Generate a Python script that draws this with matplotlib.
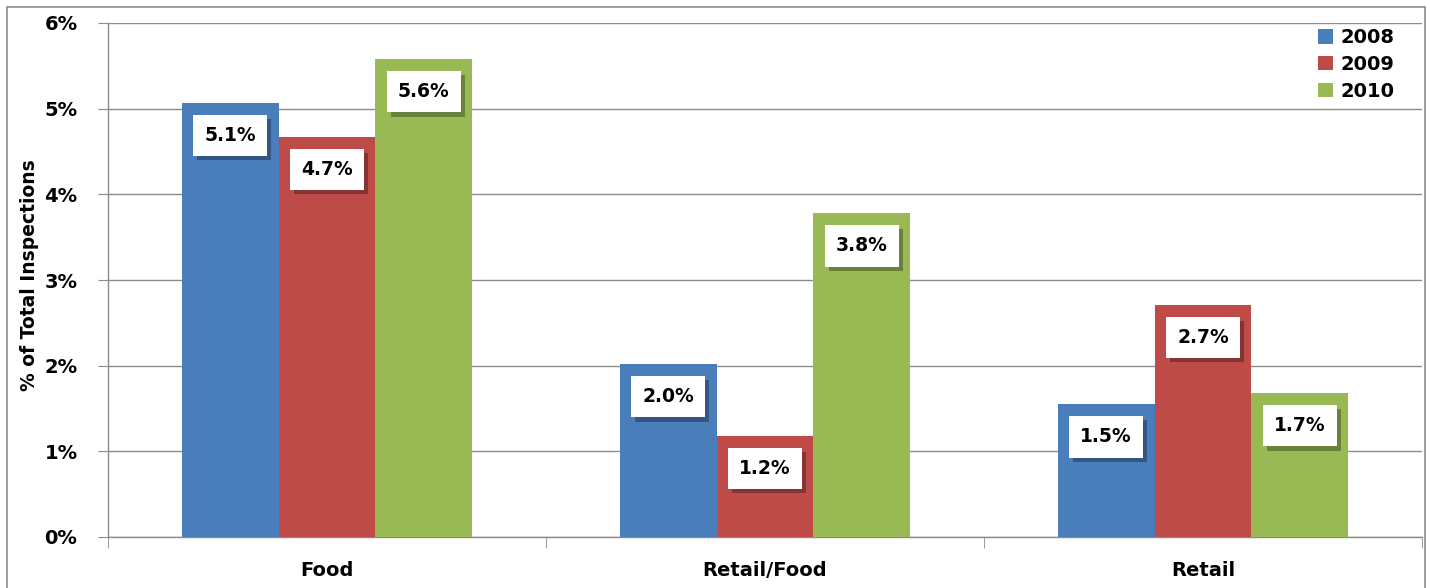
import matplotlib
matplotlib.use("Agg")
import matplotlib.pyplot as plt
import matplotlib.patheffects as pe
from matplotlib.patches import Rectangle
import numpy as np

categories = ["Food", "Retail/Food", "Retail"]
years = ["2008", "2009", "2010"]
v2008 = [5.07, 2.02, 1.55]
v2009 = [4.67, 1.18, 2.71]
v2010 = [5.58, 3.78, 1.68]
labels2008 = ["5.1%", "2.0%", "1.5%"]
labels2009 = ["4.7%", "1.2%", "2.7%"]
labels2010 = ["5.6%", "3.8%", "1.7%"]
yticks = [0, 1, 2, 3, 4, 5, 6]
ytick_labels = ["0%", "1%", "2%", "3%", "4%", "5%", "6%"]

colors = ["#4A7EBB", "#BE4B48", "#98B954"]
font = "DejaVu Sans"
plt.rcParams["font.family"] = [font]

fig = plt.figure(figsize=(14.3, 5.88), dpi=100)
ax = fig.add_axes([108/1430, 1 - 537/588, (1422-108)/1430, (537-23)/588])

# outer border
fig.patches.append(Rectangle((7/1430, -0.01), (1425-7)/1430, 1 - 7/588 + 0.01,
                             transform=fig.transFigure, fill=False,
                             edgecolor="#8C8C8C", linewidth=1.2, zorder=0))

x = np.arange(len(categories))
w = 0.221
series = [v2008, v2009, v2010]
labs = [labels2008, labels2009, labels2010]
for i, (vals, lbls) in enumerate(zip(series, labs)):
    xs = x + (i - 1) * w
    ax.bar(xs, vals, width=w, color=colors[i], label=years[i], zorder=3,
           edgecolor="none")
    for xi, v, l in zip(xs, vals, lbls):
        t = ax.annotate(l, (xi, v), xytext=(0, -23.5), textcoords="offset points",
                        ha="center", va="center", fontsize=13.5, fontweight="bold",
                        zorder=5,
                        bbox=dict(boxstyle="square,pad=0.6", fc="white", ec="none"))
        t.get_bbox_patch().set_path_effects([
            pe.withSimplePatchShadow(offset=(3, -3), shadow_rgbFace="black", alpha=0.3),
            pe.Normal()])

ax.set_xlim(-0.5, 2.5)
ax.set_ylim(0, 6)
ax.set_yticks(yticks)
ax.set_yticklabels(ytick_labels, fontsize=14, fontweight="bold")
ax.tick_params(axis="y", length=7, color="#8C8C8C", pad=15)
ax.set_xticks(x)
ax.set_xticklabels(categories, fontsize=14, fontweight="bold")
ax.set_xticks([-0.5, 0.5, 1.5, 2.5], minor=True)
ax.tick_params(axis="x", which="major", length=0, pad=17)
ax.tick_params(axis="x", which="minor", length=8, color="#8C8C8C")
ax.grid(axis="y", color="#8C8C8C", linewidth=1.0, zorder=0)
ax.set_axisbelow(True)
for s in ["top", "right"]:
    ax.spines[s].set_visible(False)
for s in ["left", "bottom"]:
    ax.spines[s].set_color("#8C8C8C")
    ax.spines[s].set_linewidth(1.0)

fig.text(30/1430, 1 - 275/588, "% of Total Inspections", rotation=90,
         ha="center", va="center", fontsize=13.5, fontweight="bold")

leg = ax.legend(loc="upper right", frameon=False, fontsize=14,
                handlelength=0.75, handleheight=0.75, handletextpad=0.4,
                labelspacing=0.4, borderaxespad=0.0, bbox_to_anchor=(0.985, 1.005))
for t in leg.get_texts():
    t.set_fontweight("bold")

fig.savefig("out.png", dpi=100)
